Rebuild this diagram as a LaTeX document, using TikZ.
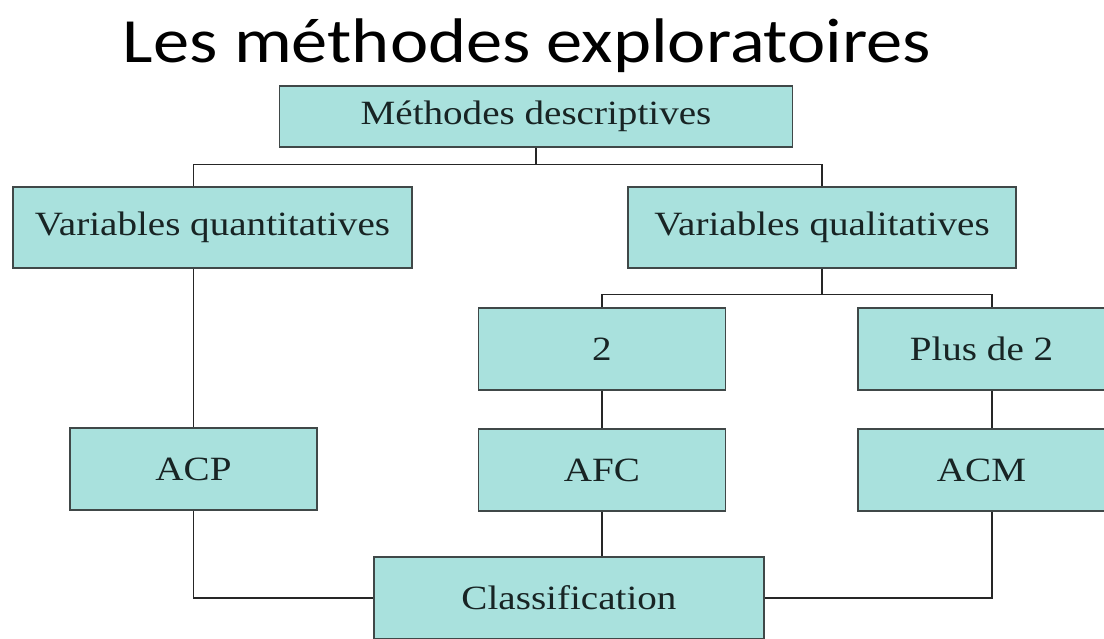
\documentclass[tikz,border=0pt]{standalone}
\usepackage{fontspec}
\setmainfont{Liberation Serif}
\newfontfamily\titlefont{Carlito}
\usetikzlibrary{calc}
\definecolor{boxfill}{RGB}{169,225,221}
\definecolor{boxline}{RGB}{64,72,72}
\definecolor{txt}{RGB}{24,36,36}
\newcommand{\stretchtxt}[1]{\scalebox{1.15}[1]{#1}}
\tikzset{
  box/.style={draw=boxline, fill=boxfill, line width=1.3pt, inner sep=0pt,
    text=txt, font=\fontsize{34}{40}\selectfont},
  link/.style={draw=black!85, line width=1.3pt},
}
\begin{document}
\begin{tikzpicture}[x=1pt,y=-1pt]
\clip (0,0) rectangle (1104,638);
\fill[white] (0,0) rectangle (1104,638);
\node[anchor=base, font=\titlefont\fontsize{63}{70}\selectfont, text=black] (title) at (527,62) {\stretchtxt{Les méthodes exploratoires}};

\node[box, minimum width=513pt, minimum height=61pt] (top) at (536,116.5) {\stretchtxt{Méthodes descriptives}};
\node[box, minimum width=399pt, minimum height=81pt] (vqt) at (212.5,227.5) {\stretchtxt{Variables quantitatives}};
\node[box, minimum width=388pt, minimum height=81pt] (vql) at (822,227.5) {\stretchtxt{Variables qualitatives}};
\node[box, minimum width=247pt, minimum height=82pt] (two) at (602,349) {\stretchtxt{2}};
\node[box, minimum width=247pt, minimum height=82pt] (plus) at (981.5,349) {\stretchtxt{Plus de 2}};
\node[box, minimum width=247pt, minimum height=82pt] (acp) at (193.5,469) {\stretchtxt{ACP}};
\node[box, minimum width=247pt, minimum height=82pt] (afc) at (602,470) {\stretchtxt{AFC}};
\node[box, minimum width=247pt, minimum height=82pt] (acm) at (981.5,470) {\stretchtxt{ACM}};
\node[box, minimum width=390pt, minimum height=82pt] (cls) at (569,598) {\stretchtxt{Classification}};

\coordinate (rx) at (992,0);
\draw[link] (top.south) -- ++(0,17) coordinate (tj);
\draw[link] (vqt.north -| acp.north) |- (tj) -| (vql.north);
\draw[link] (vqt.south -| acp.north) -- (acp.north);
\draw[link] (vql.south) -- ++(0,26) coordinate (qj);
\draw[link] (two.north) |- (qj) -| (plus.north -| rx);
\draw[link] (two.south) -- (afc.north);
\draw[link] (plus.south -| rx) -- (acm.north -| rx);
\draw[link] (afc.south) -- (afc.south |- cls.north);
\draw[link] (acp.south) |- (cls.west);
\draw[link] (acm.south -| rx) |- (cls.east);
\end{tikzpicture}
\end{document}
